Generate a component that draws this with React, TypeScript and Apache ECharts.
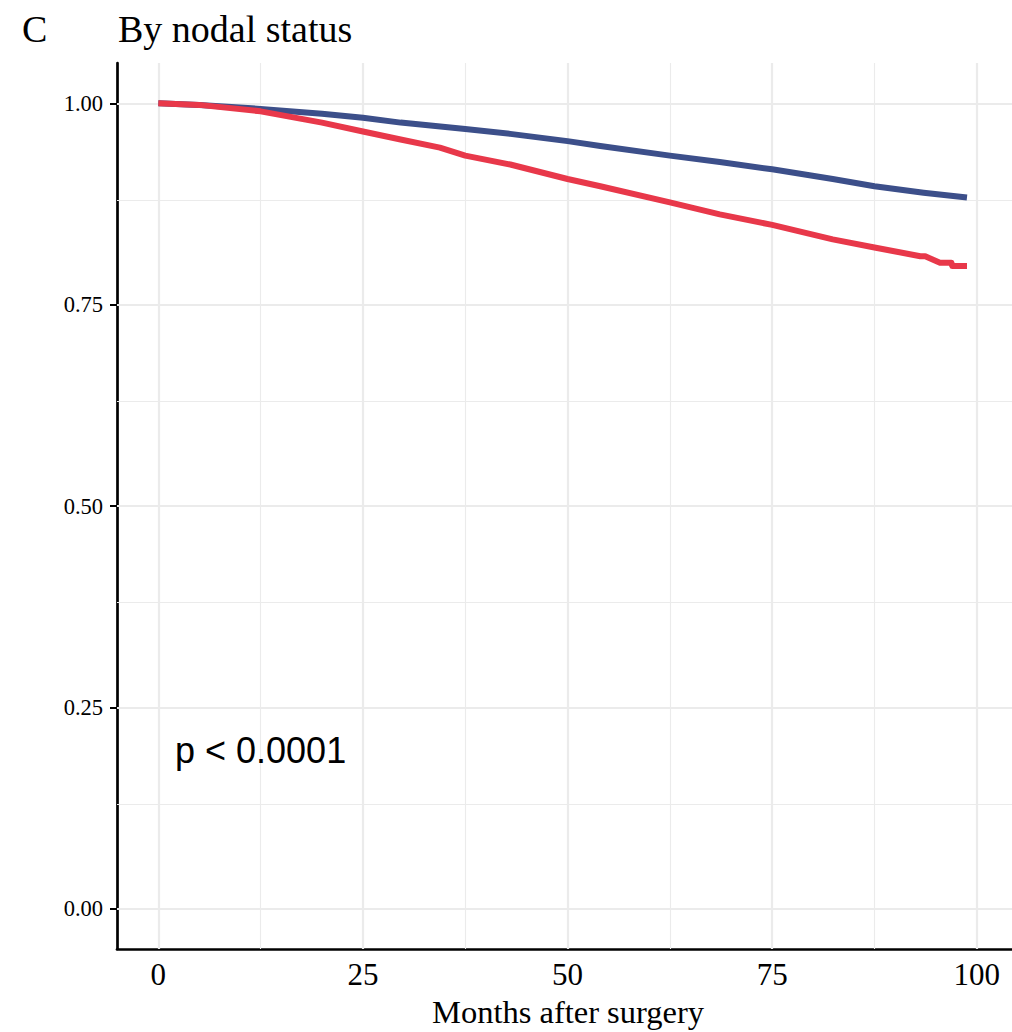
import React, { useEffect, useRef } from "react";
import * as echarts from "echarts";

// Kaplan–Meier curves
const blueMonths = [0, 5, 12.5, 20, 25, 29.6, 37.5, 43, 50, 54, 62.5, 68.6, 75, 82.4, 87.5, 93.5, 98.8];
const blueSurv = [1.0, 0.998, 0.993, 0.987, 0.982, 0.976, 0.968, 0.962, 0.953, 0.947, 0.935, 0.927, 0.918, 0.906, 0.897, 0.889, 0.883];

const redMonths = [0, 5, 12.5, 20, 25, 29.6, 34.4, 37.5, 43, 50, 54, 62.5, 68.6, 75, 82.4, 87.5, 93.1, 93.7, 95.5, 96.9, 97.0, 98.8];
const redSurv = [1.0, 0.998, 0.99, 0.976, 0.965, 0.955, 0.945, 0.935, 0.924, 0.906, 0.897, 0.877, 0.862, 0.849, 0.831, 0.821, 0.81, 0.81, 0.802, 0.802, 0.798, 0.798];

const xTicks = [0, 25, 50, 75, 100];
const xMinor = [12.5, 37.5, 62.5, 87.5];
const yTicks = [0, 0.25, 0.5, 0.75, 1];
const yMinor = [0.125, 0.375, 0.625, 0.875];

const panelLetter = "C";
const titleText = "By nodal status";
const xAxisTitle = "Months after surgery";
const pText = "p < 0.0001";

const BLUE = "#3C4F8A";
const RED = "#E8384A";
const GRID = "#EBEBEB";
const SERIF = "'Liberation Serif', 'Times New Roman', serif";
const SANS = "'Liberation Sans', Arial, sans-serif";

export default function App() {
  const ref = useRef<HTMLDivElement>(null);
  useEffect(() => {
    if (!ref.current) return;
    const chart = echarts.init(ref.current, undefined, { renderer: "svg" });
    const gridLines: any[] = [
      ...xTicks.map((v) => ({ xAxis: v, lineStyle: { color: GRID, width: 2.2, type: "solid" } })),
      ...xMinor.map((v) => ({ xAxis: v, lineStyle: { color: GRID, width: 1.1, type: "solid" } })),
      ...yTicks.map((v) => ({ yAxis: v, lineStyle: { color: GRID, width: 2.2, type: "solid" } })),
      ...yMinor.map((v) => ({ yAxis: v, lineStyle: { color: GRID, width: 1.1, type: "solid" } })),
    ];
    chart.setOption({
      animation: false,
      backgroundColor: "#ffffff",
      grid: { left: 117, right: 0, top: 63, bottom: 83, containLabel: false },
      xAxis: {
        type: "value",
        min: -5.05,
        max: 104.3,
        axisLine: { show: true, onZero: false, lineStyle: { color: "#000", width: 2.7 } },
        axisTick: { show: false },
        splitLine: { show: false },
        axisLabel: {
          customValues: xTicks,
          margin: 10,
          color: "#000",
          fontFamily: SERIF,
          fontSize: 31,
          formatter: (v: number) => String(v),
        },
      },
      yAxis: {
        type: "value",
        min: -0.05,
        max: 1.05,
        axisLine: { show: true, onZero: false, lineStyle: { color: "#000", width: 2.7 } },
        axisTick: { show: true, customValues: yTicks, length: 7, lineStyle: { color: "#000", width: 2 } },
        splitLine: { show: false },
        axisLabel: {
          customValues: yTicks,
          margin: 14,
          color: "#000",
          fontFamily: SERIF,
          fontSize: 22.5,
          formatter: (v: number) => v.toFixed(2),
        },
      },
      graphic: [
        {
          type: "text",
          x: 22,
          y: 29,
          style: { text: panelLetter, font: `38px ${SERIF}`, fill: "#000", verticalAlign: "middle" },
        },
        {
          type: "text",
          x: 118,
          y: 29,
          style: { text: titleText, font: `38px ${SERIF}`, fill: "#000", verticalAlign: "middle" },
        },
        {
          type: "text",
          x: 568,
          y: 1012,
          style: { text: xAxisTitle, font: `32.5px ${SERIF}`, fill: "#000", align: "center", verticalAlign: "middle" },
        },
        {
          type: "text",
          x: 175,
          y: 750,
          z: 10,
          style: { text: pText, font: `36px ${SANS}`, fill: "#000", verticalAlign: "middle" },
        },
      ],
      series: [
        {
          type: "line",
          data: [],
          z: 1,
          silent: true,
          markLine: {
            silent: true,
            symbol: ["none", "none"],
            label: { show: false },
            z: 1,
            data: gridLines,
          },
        },
        {
          type: "line",
          name: "N0",
          z: 3,
          data: blueMonths.map((m, i) => [m, blueSurv[i]]),
          showSymbol: false,
          lineStyle: { color: BLUE, width: 6, join: "round", cap: "butt" },
          itemStyle: { color: BLUE },
        },
        {
          type: "line",
          name: "N+",
          z: 4,
          data: redMonths.map((m, i) => [m, redSurv[i]]),
          showSymbol: false,
          lineStyle: { color: RED, width: 6, join: "round", cap: "butt" },
          itemStyle: { color: RED },
        },
      ],
    });
    return () => chart.dispose();
  }, []);
  return <div ref={ref} style={{ width: 1012, height: 1032, position: "absolute", left: 0, top: 0 }} />;
}
